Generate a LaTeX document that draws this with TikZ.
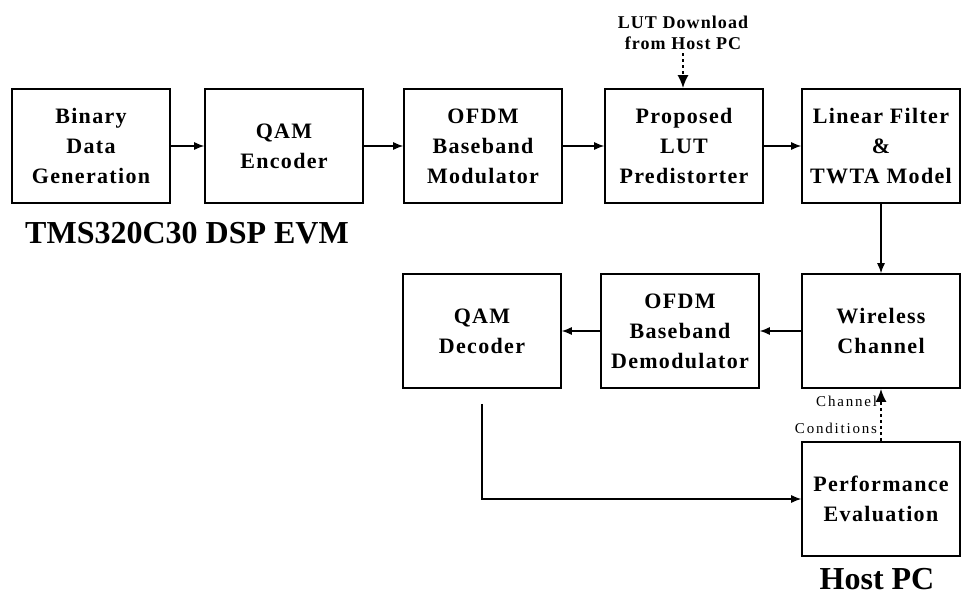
\documentclass[tikz,border=0pt]{standalone}
\usepackage{fontspec}
\setmainfont{Liberation Serif}
\newfontfamily\spacedfont[LetterSpace=6]{Liberation Serif}
\newfontfamily\widefont[LetterSpace=12]{Liberation Serif}
\usetikzlibrary{arrows.meta, positioning}

\begin{document}
\begin{tikzpicture}[
      x=1pt, y=-1pt,
      block/.style={draw, line width=1.6pt, align=center, minimum width=158pt,
        minimum height=114pt, inner sep=0pt,
        font=\spacedfont\bfseries\fontsize{22}{30}\selectfont},
      title/.style={inner sep=0pt, font=\bfseries\fontsize{32}{36}\selectfont},
      note/.style={align=center, font=\spacedfont\bfseries\fontsize{18}{21}\selectfont},
      cond/.style={align=right, inner sep=3pt,
        font=\widefont\fontsize{15}{27}\selectfont},
      arrow/.style={-{Latex[length=10pt,width=8pt]}, line width=1.2pt},
      dotarrow/.style={-{Latex[length=13pt,width=11pt]}, line width=2pt,
        dash pattern=on 3pt off 3pt}
    ]
    \useasboundingbox (0,0) rectangle (961,599);

    \node[block] at (91,146) (bin) {Binary\\Data\\Generation};
    \node[block] at (284,146) (qamenc) {QAM\\Encoder};
    \node[block] at (483,146) (ofdmmod) {OFDM\\Baseband\\Modulator};
    \node[block] at (684,146) (lut) {Proposed\\LUT\\Predistorter};
    \node[block] at (881,146) (twta) {Linear Filter\\\&\\TWTA Model};
    \node[block] at (881,331) (chan) {Wireless\\Channel};
    \node[block] at (680,331) (demod) {OFDM\\Baseband\\Demodulator};
    \node[block] at (482,331) (qamdec) {QAM\\Decoder};
    \node[block] at (881,499) (perf) {Performance\\Evaluation};

    \node[note] at (683,33) (lutdl) {LUT Download\\from Host PC};
    \node[title] at (187,233) (dsp) {TMS320C30 DSP EVM};
    \node[title] at (877,579) (host) {Host PC};

    \draw[arrow] (bin) -- (qamenc);
    \draw[arrow] (qamenc) -- (ofdmmod);
    \draw[arrow] (ofdmmod) -- (lut);
    \draw[arrow] (lut) -- (twta);
    \draw[arrow] (twta) -- (chan);
    \draw[arrow] (chan) -- (demod);
    \draw[arrow] (demod) -- (qamdec);
    \draw[arrow, shorten <=15pt] (qamdec.south) |- (perf.west);
    \draw[dotarrow] (lutdl.south) -- (lutdl.south |- lut.north);
    \draw[dotarrow] (perf.north) --
      node[cond, left]{Channel\\Conditions} (chan.south);
  \end{tikzpicture}
\end{document}
